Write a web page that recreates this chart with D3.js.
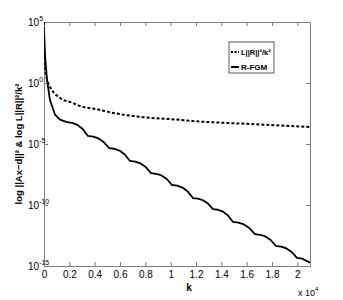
<!DOCTYPE html>
<html>
<head>
<meta charset="utf-8">
<script src="https://cdn.jsdelivr.net/npm/d3@7"></script>
<style>
  body { margin: 0; background: #fff; }
  text { font-family: "Liberation Sans Narrow", "Arial Narrow", "Liberation Sans", sans-serif; }
</style>
</head>
<body>
<svg id="chart" width="343" height="300"></svg>
<script>
// bound curve L||R||^2/k^2 (log10 units)
const boundK = [1, 3, 10, 30, 100, 316, 1263, 2290, 2840, 4180, 5210, 7810, 10730, 11760, 13340, 16020, 21000];
const boundLog = [5, 4.1, 3.08, 2.1, 1.08, 0.05, -1.22, -1.64, -1.89, -2.15, -2.4, -2.8, -3.02, -3.12, -3.22, -3.35, -3.6];

// R-FGM residual ||Ax-d||^2 (log10 units)
const fgmK = [1, 80, 240, 470, 870, 1260, 1810,
  2225, 2640, 3055, 3470,
  3885, 4300, 4715, 5130,
  5545, 5960, 6375, 6790,
  7205, 7620, 8035, 8450,
  8860, 9275, 9690, 10100,
  10515, 10930, 11345, 11760,
  12155, 12550, 12945, 13340,
  13735, 14130, 14525, 14920,
  15350, 15785, 16215, 16650,
  17065, 17480, 17895, 18310,
  18725, 19140, 19555, 19970,
  20385, 21000];
const fgmLog = [4.3, 2.3, 0.25, -1.4, -2.6, -3.0, -3.2,
  -3.27, -3.43, -3.77, -4.34,
  -4.40, -4.54, -4.84, -5.33,
  -5.39, -5.54, -5.86, -6.39,
  -6.45, -6.59, -6.89, -7.38,
  -7.44, -7.58, -7.87, -8.36,
  -8.42, -8.57, -8.90, -9.43,
  -9.48, -9.61, -9.88, -10.33,
  -10.39, -10.54, -10.86, -11.39,
  -11.45, -11.59, -11.89, -12.38,
  -12.44, -12.58, -12.87, -13.36,
  -13.42, -13.56, -13.85, -14.34,
  -14.40, -14.72];

const xTicks = [0, 2000, 4000, 6000, 8000, 10000, 12000, 14000, 16000, 18000, 20000];
const yTicks = [1e5, 1e0, 1e-5, 1e-10, 1e-15];
const yTickExp = ["5", "0", "-5", "-10", "-15"];

const margin = { top: 22, right: 33, bottom: 34, left: 44 };
const width = 343 - margin.left - margin.right;
const height = 300 - margin.top - margin.bottom;
const axisGray = "#7f7f7f";

const svg = d3.select("#chart");
const g = svg.append("g").attr("transform", `translate(${margin.left},${margin.top})`);

const x = d3.scaleLinear().domain([0, 21000]).range([0, width]);
const y = d3.scaleLog().domain([1e-15, 1e5]).range([height, 0]);

g.append("clipPath").attr("id", "clip")
  .append("rect").attr("width", width).attr("height", height);

// axes (ticks inward, matlab style)
function styleAxis(sel) {
  sel.selectAll("path").attr("stroke", axisGray);
  sel.selectAll("line").attr("stroke", axisGray);
}
g.append("g").attr("transform", `translate(0,${height})`)
  .call(d3.axisBottom(x).tickValues(xTicks).tickFormat(d => d / 1e4)
    .tickSizeInner(-4).tickSizeOuter(0).tickPadding(5))
  .call(styleAxis)
  .call(s => s.selectAll("text").attr("fill", "#000").attr("font-size", 10));
g.append("g")
  .call(d3.axisTop(x).tickValues(xTicks).tickFormat("").tickSizeInner(-4).tickSizeOuter(0))
  .call(styleAxis);
g.append("g")
  .call(d3.axisLeft(y).tickValues(yTicks).tickFormat("").tickSizeInner(-4).tickSizeOuter(0))
  .call(styleAxis);
g.append("g").attr("transform", `translate(${width},0)`)
  .call(d3.axisRight(y).tickValues(yTicks).tickFormat("").tickSizeInner(-4).tickSizeOuter(0))
  .call(styleAxis);

// y tick labels 10^n
yTicks.forEach((v, i) => {
  const t = svg.append("text")
    .attr("x", 28).attr("y", margin.top + y(v) + 4)
    .attr("font-size", 10).attr("fill", "#000");
  t.append("tspan").text("10");
  t.append("tspan").attr("font-size", 7).attr("dy", -5).text(yTickExp[i]);
});

// lines
const boundData = boundK.map((k, i) => ({ k: k, v: Math.pow(10, boundLog[i]) }));
const fgmData = fgmK.map((k, i) => ({ k: k, v: Math.pow(10, fgmLog[i]) }));

const plot = g.append("g").attr("clip-path", "url(#clip)");
plot.append("path").datum(boundData)
  .attr("fill", "none").attr("stroke", "#000").attr("stroke-width", 2)
  .attr("stroke-dasharray", "3,2")
  .attr("d", d3.line().x(d => x(d.k)).y(d => y(d.v)).curve(d3.curveMonotoneX));
plot.append("path").datum(fgmData)
  .attr("fill", "none").attr("stroke", "#000").attr("stroke-width", 1.8)
  .attr("stroke-linejoin", "round")
  .attr("d", d3.line().x(d => x(d.k)).y(d => y(d.v)));

// labels
svg.append("text").attr("x", 189).attr("y", 291).attr("text-anchor", "middle")
  .attr("font-size", 10).attr("font-weight", "bold").text("k");

const mult = svg.append("text").attr("x", 298).attr("y", 296).attr("font-size", 9);
mult.append("tspan").text("x 10");
mult.append("tspan").attr("font-size", 6).attr("dy", -5).text("4");

svg.append("text")
  .attr("transform", `translate(22,${margin.top + height / 2}) rotate(-90)`)
  .attr("text-anchor", "middle").attr("font-size", 9.5).attr("font-weight", "bold")
  .text("log ||Ax\u2212d||\u00b2  &  log L||R||\u00b2/k\u00b2");

// legend
const leg = svg.append("g").attr("transform", "translate(229,42)");
leg.append("rect").attr("width", 45).attr("height", 31)
  .attr("fill", "#fff").attr("stroke", "#333").attr("stroke-width", 0.8);
leg.append("line").attr("x1", 2).attr("x2", 10).attr("y1", 10).attr("y2", 10)
  .attr("stroke", "#000").attr("stroke-width", 2).attr("stroke-dasharray", "2,1.5");
leg.append("line").attr("x1", 2).attr("x2", 10).attr("y1", 25).attr("y2", 25)
  .attr("stroke", "#000").attr("stroke-width", 2);
leg.append("text").attr("x", 12).attr("y", 13).attr("font-size", 7.5).attr("font-weight", "bold")
  .attr("fill", "#000")
  .text("L||R||\u00b2/k\u00b2");
leg.append("text").attr("x", 12).attr("y", 28).attr("font-size", 8).attr("font-weight", "bold")
  .attr("fill", "#000")
  .text("R-FGM");
</script>
</body>
</html>
